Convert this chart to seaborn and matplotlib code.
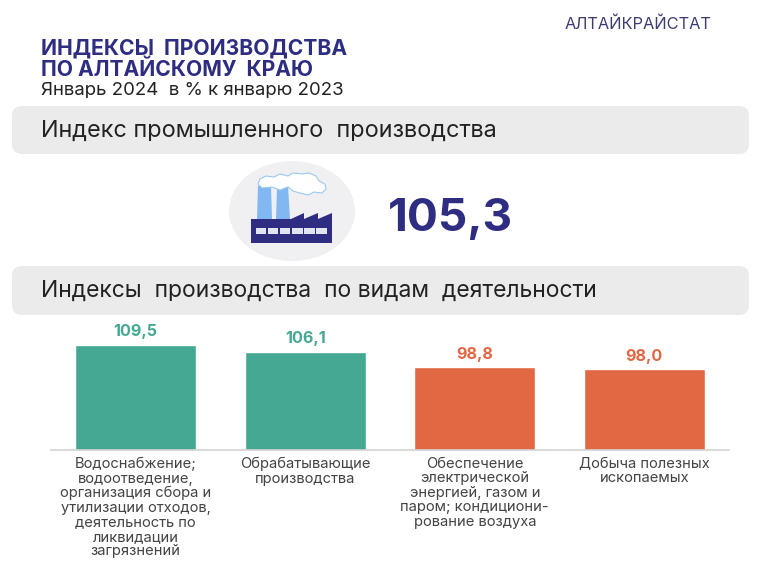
import numpy as np
import pandas as pd
import matplotlib
matplotlib.use("Agg")
import matplotlib.pyplot as plt
from matplotlib.patches import FancyBboxPatch, Ellipse, Rectangle, Polygon
import seaborn as sns

categories = [
    "Водоснабжение;\nводоотведение,\nорганизация сбора и\nутилизации отходов,\nдеятельность по\nликвидации\nзагрязнений",
    "Обрабатывающие\nпроизводства",
    "Обеспечение\nэлектрической\nэнергией, газом и\nпаром; кондициони-\nрование воздуха",
    "Добыча полезных\nископаемых",
]
values = [109.5, 106.1, 98.8, 98.0]
value_labels = ["109,5", "106,1", "98,8", "98,0"]
bar_colors = ["#44a892", "#44a892", "#e26844", "#e26844"]

NAVY = "#2e2d82"
W, H = 760, 570

sns.set_theme(style="white")
plt.rcParams["font.family"] = ["Inter", "Liberation Sans", "DejaVu Sans"]

fig = plt.figure(figsize=(W / 100, H / 100), dpi=100, facecolor="white")

# фон: плашки, значок, заголовки (в пикселях картинки)
bg = fig.add_axes([0, 0, 1, 1])
bg.set_xlim(0, W)
bg.set_ylim(H, 0)
bg.axis("off")

for top, bottom in [(106, 154), (266, 315)]:
    bg.add_patch(FancyBboxPatch((12, top), 737, bottom - top,
                                boxstyle="round,pad=0,rounding_size=10", fc="#ebebeb", ec="none"))

# завод
bg.add_patch(Ellipse((292, 211), 126, 100, fc="#f0f0f2", ec="none"))
bg.add_patch(Polygon([(258, 186), (271, 186), (272, 219), (257, 219)], fc="#82b8f2", ec="none"))
bg.add_patch(Polygon([(277, 188), (288, 186), (290, 219), (276, 219)], fc="#82b8f2", ec="none"))
cloud = [(258, 184), (260, 179), (266, 176), (274, 177), (280, 174), (288, 176), (293, 173),
         (302, 174), (309, 173), (316, 176), (319, 181), (325, 184), (326, 189), (322, 193),
         (314, 192), (308, 195), (300, 193), (293, 191), (288, 187), (280, 190), (272, 187),
         (262, 188)]
bg.add_patch(Polygon(cloud, fc="white", ec="#9cc8ee", lw=0.8, joinstyle="round"))
bg.add_patch(Polygon([(251, 219), (291, 219), (304, 213), (304, 219), (318, 213), (318, 219),
                      (332, 213), (332, 243), (251, 243)], fc=NAVY, ec="none"))
for x0 in np.arange(255.5, 325, 12.2):
    bg.add_patch(Rectangle((x0, 228), 10.5, 6, fc="#dfe6f2", ec="none"))

bg.text(638, 24, "АЛТАЙКРАЙСТАТ", fontsize=11.8, color="#3c3c70", ha="center", va="center")
bg.text(41, 49, "ИНДЕКСЫ  ПРОИЗВОДСТВА", fontsize=15.2, fontweight="bold", color=NAVY, va="center")
bg.text(41, 70, "ПО АЛТАЙСКОМУ  КРАЮ", fontsize=15.2, fontweight="bold", color=NAVY, va="center")
bg.text(41, 91, "Январь 2024  в % к январю 2023", fontsize=13.4, color="#222222", va="center")
bg.text(41, 131, "Индекс промышленного  производства", fontsize=16.9, color="#222222", va="center")
bg.text(41, 291, "Индексы  производства  по видам  деятельности", fontsize=16.5, color="#222222", va="center")
bg.text(450, 219, "105,3", fontsize=33, fontweight="bold", color=NAVY, ha="center", va="center")

# столбцы
df = pd.DataFrame({"category": categories, "value": values})
ax = fig.add_axes([51 / W, 1 - 450 / H, 678 / W, 130 / H])
ax.patch.set_alpha(0)
sns.barplot(data=df, x="category", y="value", hue="category", palette=bar_colors,
            width=0.713, legend=False, saturation=1, ax=ax)
ax.set_xlim(-0.5, 3.5)
ax.set_ylim(60, 60 + 130 / 2.13)
ax.set_xlabel("")
ax.set_ylabel("")
ax.set_yticks([])
sns.despine(ax=ax, left=True)
ax.spines["bottom"].set_color("#d4d4d4")
ax.spines["bottom"].set_linewidth(1.2)
ax.tick_params(axis="x", length=0, pad=5, labelsize=10.6, labelcolor="#444444")
for tick in ax.get_xticklabels():
    tick.set_linespacing(1.04)
for container, label, color in zip(ax.containers, value_labels, bar_colors):
    ax.bar_label(container, labels=[label], padding=4, fontsize=11.6, fontweight="bold", color=color)

fig.savefig("out.png", dpi=100)
